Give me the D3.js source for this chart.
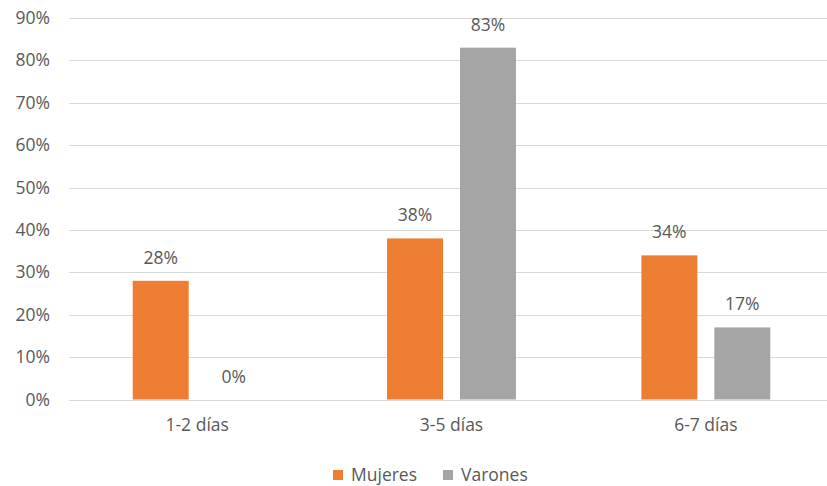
<!DOCTYPE html>
<html>
<head>
<meta charset="utf-8">
<script src="https://cdn.jsdelivr.net/npm/d3@7"></script>
<style>
  html, body { margin: 0; padding: 0; background: #fff; }
  svg { display: block; }
  text { font-family: "Open Sans", "Noto Sans", sans-serif; fill: #595959; }
</style>
</head>
<body>
<svg id="chart" width="827" height="486"></svg>
<script>
// Días de actividad por sexo (porcentaje)
const categories = ["1-2 días", "3-5 días", "6-7 días"];
const seriesNames = ["Mujeres", "Varones"];
const mujeres = [28, 38, 34];
const varones = [0, 83, 17];
const yTicks = [0, 10, 20, 30, 40, 50, 60, 70, 80, 90];
const colors = ["#ED7D31", "#A5A5A5"];

const svg = d3.select("#chart");
const W = 827, H = 486;
const plot = { left: 70, right: 833, top: 18, bottom: 399.5 };
const FONT = '"Open Sans", "Noto Sans", sans-serif';

const x = d3.scaleBand().domain(categories).range([plot.left, plot.right]);
const xs = d3.scaleBand().domain(seriesNames)
  .range([x.bandwidth() * 0.2466, x.bandwidth() * 0.7534]).paddingInner(0.233);
const y = d3.scaleLinear().domain([0, 90]).range([plot.bottom, plot.top]);

// Gridlines
svg.append("g")
  .selectAll("line")
  .data(yTicks)
  .join("line")
  .attr("x1", plot.left - 1)
  .attr("x2", W)
  .attr("y1", d => Math.round(y(d)) + 0.5)
  .attr("y2", d => Math.round(y(d)) + 0.5)
  .attr("stroke", "#D9D9D9")
  .attr("stroke-width", 1);

// Y axis labels
const yAxis = d3.axisLeft(y).tickValues(yTicks).tickFormat(d => d + "%").tickSize(0).tickPadding(0);
const gy = svg.append("g").attr("transform", `translate(${plot.left - 20},0)`).call(yAxis);
gy.select(".domain").remove();
gy.selectAll("text").attr("font-size", 17.5).attr("fill", "#595959").style("font-family", FONT);

// X axis labels
const xAxis = d3.axisBottom(x).tickSize(0).tickPadding(0);
const gx = svg.append("g").attr("transform", `translate(0,${plot.bottom + 19})`).call(xAxis);
gx.select(".domain").remove();
gx.selectAll("text").attr("font-size", 17.5).attr("fill", "#595959").style("font-family", FONT);

// Bars
const rows = categories.map((c, i) => ({ cat: c, values: [mujeres[i], varones[i]] }));
const groups = svg.append("g").selectAll("g")
  .data(rows)
  .join("g")
  .attr("transform", d => `translate(${x(d.cat)},0)`);

const cells = groups.selectAll("g")
  .data(d => d.values.map((v, j) => ({ name: seriesNames[j], v, j })))
  .join("g");

cells.append("rect")
  .attr("x", d => xs(d.name))
  .attr("width", xs.bandwidth())
  .attr("y", d => y(d.v))
  .attr("height", d => y(0) - y(d.v))
  .attr("fill", d => colors[d.j]);

cells.append("text")
  .attr("x", d => xs(d.name) + xs.bandwidth() / 2)
  .attr("y", d => y(d.v) - 17)
  .attr("text-anchor", "middle")
  .attr("font-size", 17.5)
  .text(d => d.v + "%");

// Legend
const legend = svg.append("g").attr("transform", "translate(333,475)");
const offsets = [0, 110];
seriesNames.forEach((n, i) => {
  const g = legend.append("g").attr("transform", `translate(${offsets[i]},0)`);
  g.append("rect").attr("x", 0).attr("y", -5).attr("width", 10).attr("height", 10).attr("fill", colors[i]);
  g.append("text").attr("x", 18).attr("y", 0).attr("dy", "0.35em").attr("font-size", 17.5).text(n);
});
</script>
</body>
</html>
